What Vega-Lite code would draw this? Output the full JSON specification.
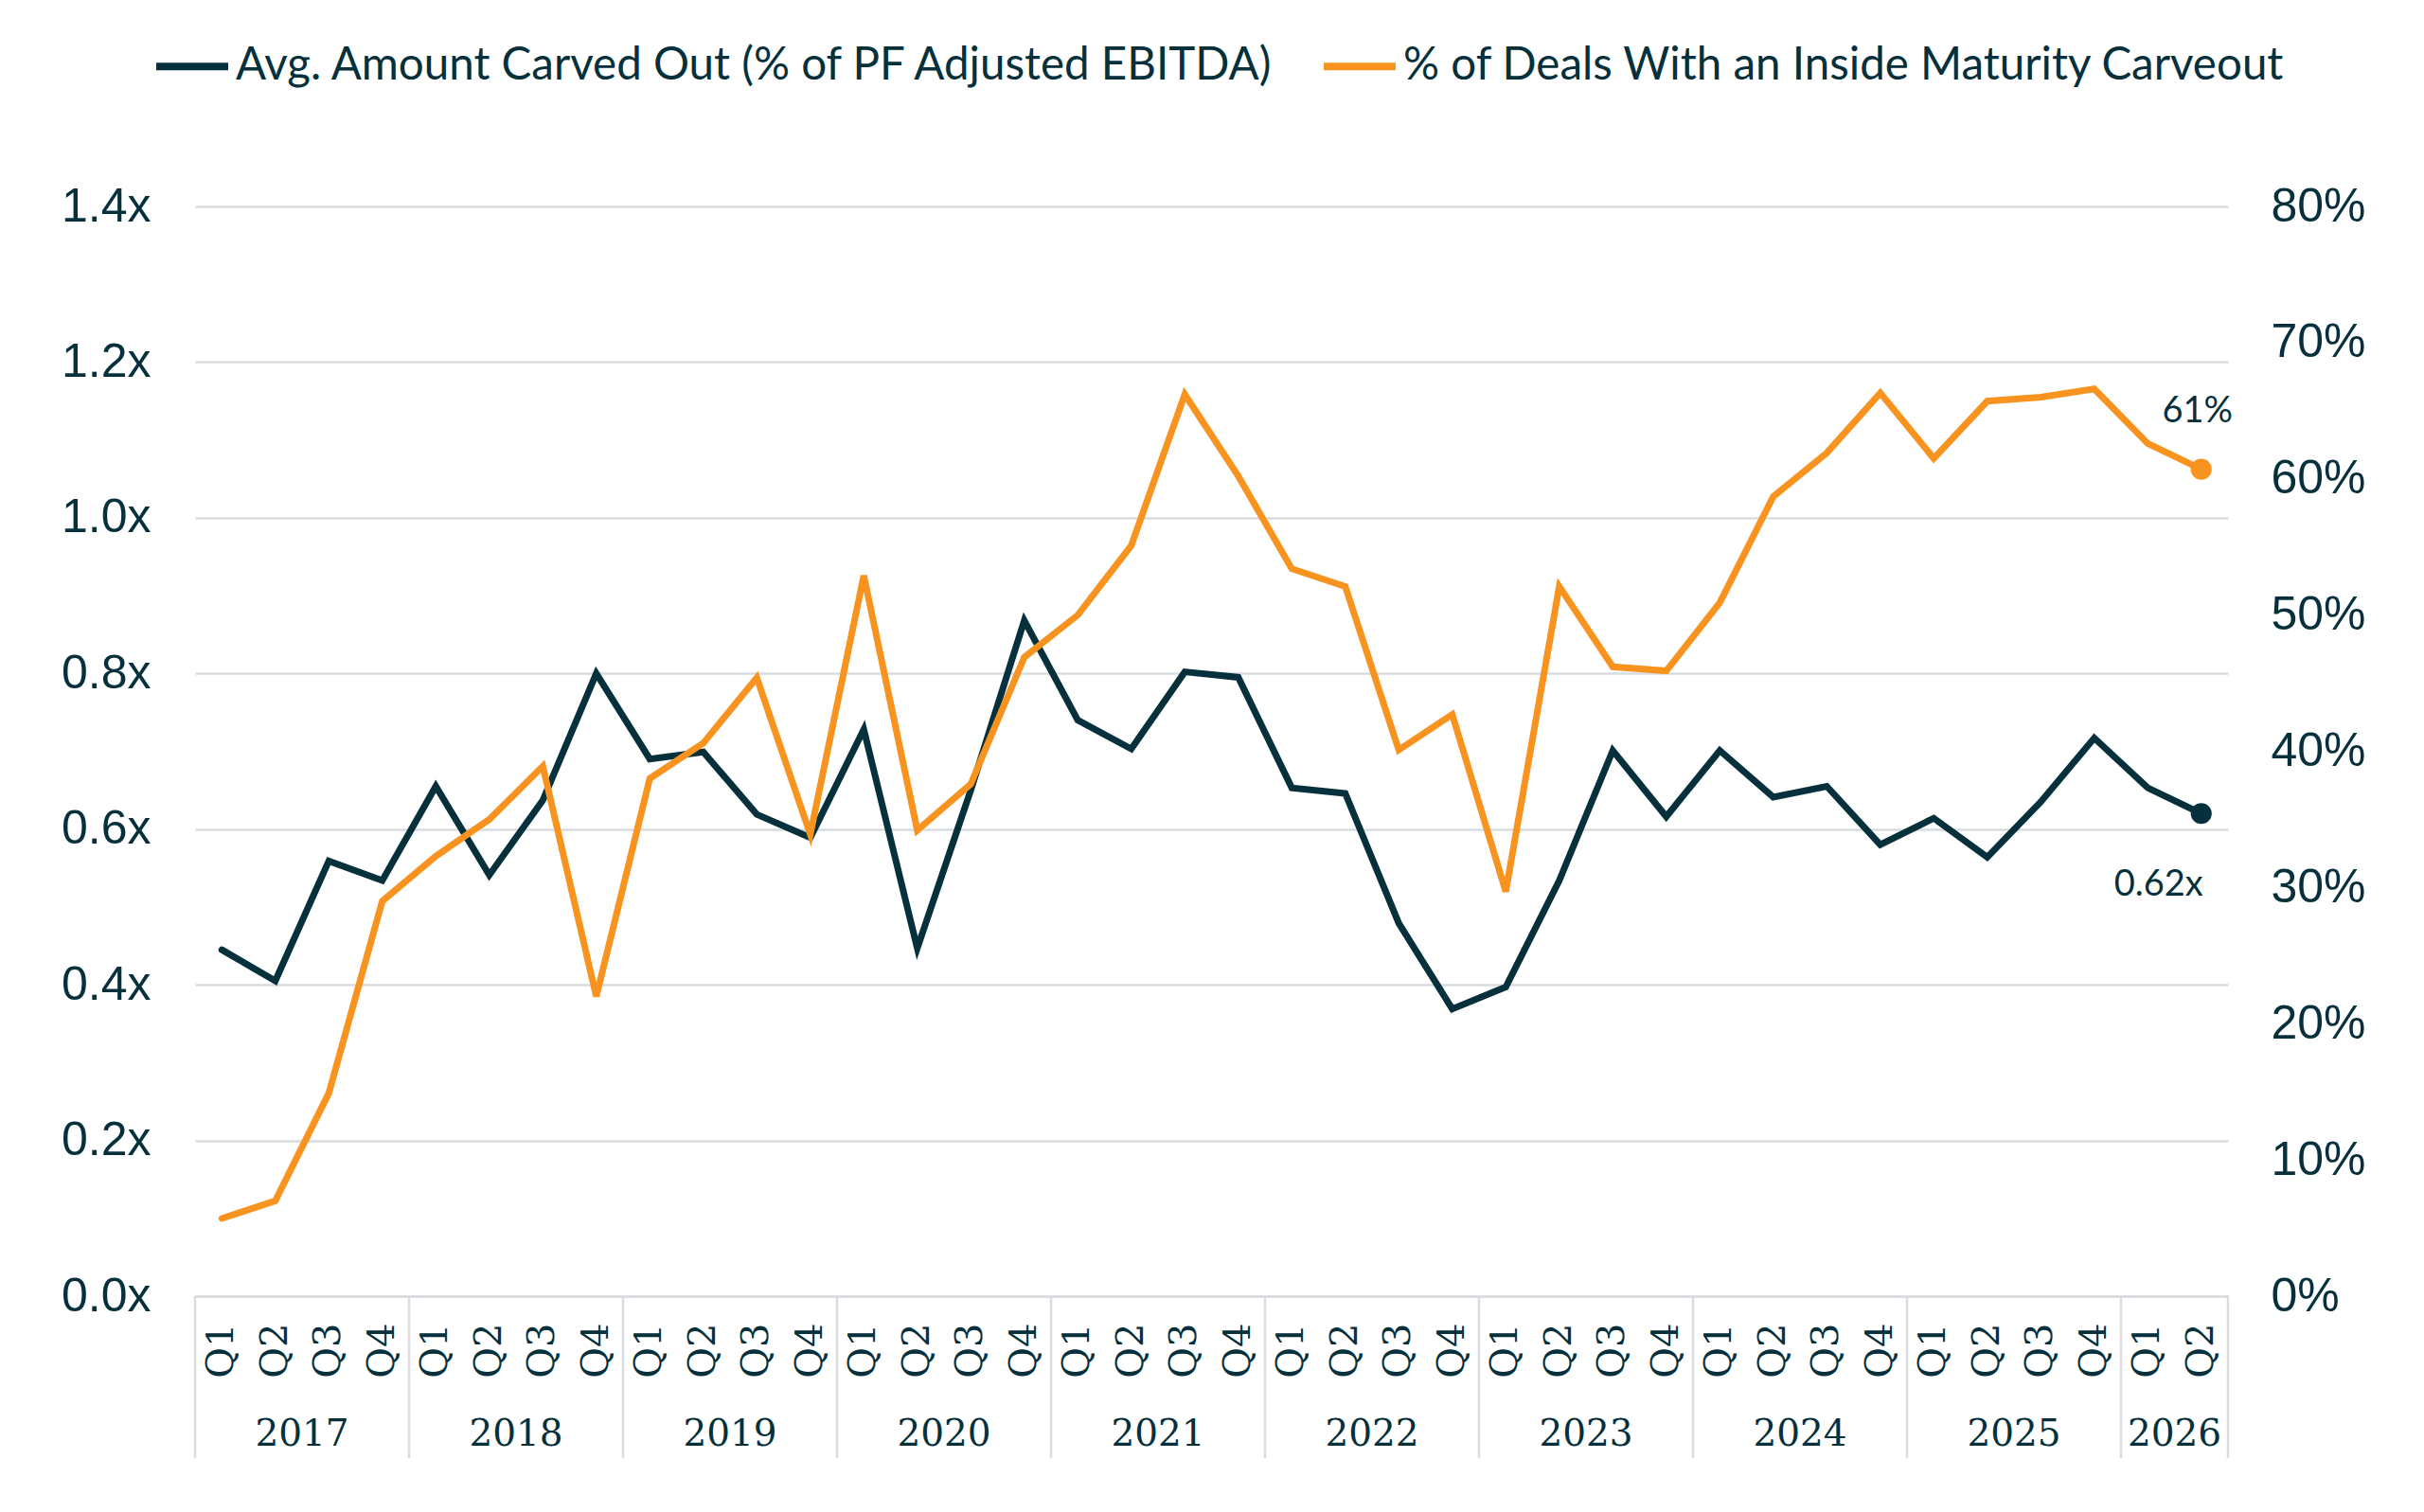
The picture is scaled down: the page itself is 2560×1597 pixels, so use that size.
{
  "$schema": "https://vega.github.io/schema/vega-lite/v6.json",
  "description": "Inside maturity carveouts: average amount carved out vs share of deals, by quarter",
  "autosize": {"type": "none"},
  "padding": {"left": 206, "top": 218, "right": 207, "bottom": 228},
  "width": 2147,
  "height": 1151,
  "background": "white",
  "config": {
    "view": {"stroke": null},
    "font": "Liberation Sans",
    "axis": {"labelColor": "#06303c", "ticks": false, "tickSize": 0, "title": null}
  },
  "data": {
    "values": [
      {"period": "2017 Q1", "yr": "2017", "q": "Q1", "amt": 0.445, "pct": 5.7},
      {"period": "2017 Q2", "yr": "2017", "q": "Q2", "amt": 0.405, "pct": 7.0},
      {"period": "2017 Q3", "yr": "2017", "q": "Q3", "amt": 0.559, "pct": 14.9},
      {"period": "2017 Q4", "yr": "2017", "q": "Q4", "amt": 0.534, "pct": 29.0},
      {"period": "2018 Q1", "yr": "2018", "q": "Q1", "amt": 0.655, "pct": 32.3},
      {"period": "2018 Q2", "yr": "2018", "q": "Q2", "amt": 0.541, "pct": 35.0},
      {"period": "2018 Q3", "yr": "2018", "q": "Q3", "amt": 0.637, "pct": 38.9},
      {"period": "2018 Q4", "yr": "2018", "q": "Q4", "amt": 0.800, "pct": 22.0},
      {"period": "2019 Q1", "yr": "2019", "q": "Q1", "amt": 0.690, "pct": 38.0},
      {"period": "2019 Q2", "yr": "2019", "q": "Q2", "amt": 0.699, "pct": 40.6},
      {"period": "2019 Q3", "yr": "2019", "q": "Q3", "amt": 0.619, "pct": 45.4},
      {"period": "2019 Q4", "yr": "2019", "q": "Q4", "amt": 0.589, "pct": 33.9},
      {"period": "2020 Q1", "yr": "2020", "q": "Q1", "amt": 0.728, "pct": 52.9},
      {"period": "2020 Q2", "yr": "2020", "q": "Q2", "amt": 0.447, "pct": 34.2},
      {"period": "2020 Q3", "yr": "2020", "q": "Q3", "amt": 0.650, "pct": 37.6},
      {"period": "2020 Q4", "yr": "2020", "q": "Q4", "amt": 0.868, "pct": 46.9},
      {"period": "2021 Q1", "yr": "2021", "q": "Q1", "amt": 0.740, "pct": 50.0},
      {"period": "2021 Q2", "yr": "2021", "q": "Q2", "amt": 0.703, "pct": 55.1},
      {"period": "2021 Q3", "yr": "2021", "q": "Q3", "amt": 0.802, "pct": 66.2},
      {"period": "2021 Q4", "yr": "2021", "q": "Q4", "amt": 0.795, "pct": 60.2},
      {"period": "2022 Q1", "yr": "2022", "q": "Q1", "amt": 0.653, "pct": 53.4},
      {"period": "2022 Q2", "yr": "2022", "q": "Q2", "amt": 0.646, "pct": 52.1},
      {"period": "2022 Q3", "yr": "2022", "q": "Q3", "amt": 0.479, "pct": 40.1},
      {"period": "2022 Q4", "yr": "2022", "q": "Q4", "amt": 0.369, "pct": 42.7},
      {"period": "2023 Q1", "yr": "2023", "q": "Q1", "amt": 0.397, "pct": 29.7},
      {"period": "2023 Q2", "yr": "2023", "q": "Q2", "amt": 0.534, "pct": 52.1},
      {"period": "2023 Q3", "yr": "2023", "q": "Q3", "amt": 0.701, "pct": 46.2},
      {"period": "2023 Q4", "yr": "2023", "q": "Q4", "amt": 0.616, "pct": 45.9},
      {"period": "2024 Q1", "yr": "2024", "q": "Q1", "amt": 0.701, "pct": 50.9},
      {"period": "2024 Q2", "yr": "2024", "q": "Q2", "amt": 0.641, "pct": 58.7},
      {"period": "2024 Q3", "yr": "2024", "q": "Q3", "amt": 0.655, "pct": 61.9},
      {"period": "2024 Q4", "yr": "2024", "q": "Q4", "amt": 0.580, "pct": 66.3},
      {"period": "2025 Q1", "yr": "2025", "q": "Q1", "amt": 0.614, "pct": 61.5},
      {"period": "2025 Q2", "yr": "2025", "q": "Q2", "amt": 0.564, "pct": 65.7},
      {"period": "2025 Q3", "yr": "2025", "q": "Q3", "amt": 0.635, "pct": 66.0},
      {"period": "2025 Q4", "yr": "2025", "q": "Q4", "amt": 0.717, "pct": 66.6},
      {"period": "2026 Q1", "yr": "2026", "q": "Q1", "amt": 0.653, "pct": 62.6},
      {"period": "2026 Q2", "yr": "2026", "q": "Q2", "amt": 0.620, "pct": 60.7}
    ]
  },
  "encoding": {
    "x": {
      "field": "period",
      "type": "nominal",
      "sort": null,
      "scale": {"type": "band", "paddingInner": 0, "paddingOuter": 0},
      "axis": {
        "labelExpr": "split(datum.value, ' ')[1]",
        "labelAngle": -90,
        "labelFont": "DejaVu Serif",
        "labelFontSize": 40,
        "labelPadding": 28,
        "domain": true,
        "domainColor": "#d8dce0",
        "domainWidth": 2.5,
        "grid": false
      }
    }
  },
  "layer": [
    {
      "layer": [
        {
          "mark": {"type": "line", "strokeWidth": 7, "strokeCap": "round", "strokeJoin": "miter"},
          "encoding": {
            "y": {
              "field": "amt",
              "type": "quantitative",
              "scale": {"domain": [0, 1.4], "nice": false},
              "axis": {
                "orient": "left",
                "values": [0, 0.2, 0.4, 0.6, 0.8, 1.0, 1.2, 1.4],
                "labelExpr": "format(datum.value, '.1f') + 'x'",
                "labelFontSize": 50,
                "labelPadding": 47,
                "domain": false,
                "grid": true,
                "gridColor": "#d8dce0",
                "gridWidth": 2.5
              }
            },
            "color": {
              "datum": "Avg. Amount Carved Out (% of PF Adjusted EBITDA)",
              "scale": {
                "domain": ["Avg. Amount Carved Out (% of PF Adjusted EBITDA)", "% of Deals With an Inside Maturity Carveout"],
                "range": ["#06303c", "#f7931e"]
              },
              "legend": {
                "orient": "none",
                "legendX": -45,
                "legendY": -190,
                "direction": "horizontal",
                "title": null,
                "padding": 0,
                "symbolType": "stroke",
                "symbolSize": 5776,
                "symbolStrokeWidth": 8,
                "labelFont": "Lato",
                "labelFontSize": 47.5,
                "labelColor": "#06303c",
                "labelLimit": 0,
                "labelOffset": 4,
                "columnPadding": 34
              }
            }
          }
        },
        {
          "transform": [{"filter": "datum.period == '2026 Q2'"}],
          "mark": {"type": "point", "filled": true, "size": 490, "opacity": 1},
          "encoding": {
            "y": {"field": "amt", "type": "quantitative", "scale": {"domain": [0, 1.4], "nice": false}},
            "color": {"value": "#06303c"}
          }
        },
        {
          "transform": [
            {"filter": "datum.period == '2026 Q2'"},
            {"calculate": "format(datum.amt, '.2f') + 'x'", "as": "lbl"}
          ],
          "mark": {"type": "text", "font": "Lato", "fontSize": 38, "align": "right", "baseline": "middle", "dx": 2, "dy": 76, "color": "#06303c"},
          "encoding": {
            "y": {"field": "amt", "type": "quantitative", "scale": {"domain": [0, 1.4], "nice": false}},
            "text": {"field": "lbl"}
          }
        },
        {
          "transform": [{"filter": "datum.q == 'Q1'"}],
          "mark": {"type": "rule", "color": "#d8dce0", "strokeWidth": 2.5},
          "encoding": {
            "x": {"field": "period", "type": "nominal", "sort": null, "bandPosition": 0},
            "y": {"datum": 0, "scale": {"domain": [0, 1.4], "nice": false}},
            "y2": {"datum": -0.208}
          }
        },
        {
          "transform": [{"filter": "datum.period == '2026 Q2'"}],
          "mark": {"type": "rule", "color": "#d8dce0", "strokeWidth": 2.5},
          "encoding": {
            "x": {"field": "period", "type": "nominal", "sort": null, "bandPosition": 1},
            "y": {"datum": 0, "scale": {"domain": [0, 1.4], "nice": false}},
            "y2": {"datum": -0.208}
          }
        },
        {
          "transform": [{"filter": "datum.q == 'Q3' || datum.period == '2026 Q2'"}],
          "mark": {"type": "text", "font": "DejaVu Serif", "fontSize": 39, "align": "center", "baseline": "alphabetic", "color": "#06303c"},
          "encoding": {
            "x": {"field": "period", "type": "nominal", "sort": null, "bandPosition": 0},
            "y": {"datum": -0.1925, "scale": {"domain": [0, 1.4], "nice": false}},
            "text": {"field": "yr"}
          }
        }
      ]
    },
    {
      "layer": [
        {
          "mark": {"type": "line", "strokeWidth": 7, "strokeCap": "round", "strokeJoin": "miter"},
          "encoding": {
            "y": {
              "field": "pct",
              "type": "quantitative",
              "scale": {"domain": [0, 80], "nice": false},
              "axis": {
                "orient": "right",
                "values": [0, 10, 20, 30, 40, 50, 60, 70, 80],
                "labelExpr": "datum.value + '%'",
                "labelFontSize": 50,
                "labelPadding": 45,
                "domain": false,
                "grid": false
              }
            },
            "color": {"datum": "% of Deals With an Inside Maturity Carveout"}
          }
        },
        {
          "transform": [{"filter": "datum.period == '2026 Q2'"}],
          "mark": {"type": "point", "filled": true, "size": 490, "opacity": 1},
          "encoding": {
            "y": {"field": "pct", "type": "quantitative", "scale": {"domain": [0, 80], "nice": false}},
            "color": {"value": "#f7931e"}
          }
        },
        {
          "transform": [
            {"filter": "datum.period == '2026 Q2'"},
            {"calculate": "format(datum.pct, '.0f') + '%'", "as": "lbl"}
          ],
          "mark": {"type": "text", "font": "Lato", "fontSize": 38, "align": "center", "baseline": "middle", "dx": -4, "dy": -61, "color": "#06303c"},
          "encoding": {
            "y": {"field": "pct", "type": "quantitative", "scale": {"domain": [0, 80], "nice": false}},
            "text": {"field": "lbl"}
          }
        }
      ]
    }
  ],
  "resolve": {"scale": {"y": "independent"}}
}
